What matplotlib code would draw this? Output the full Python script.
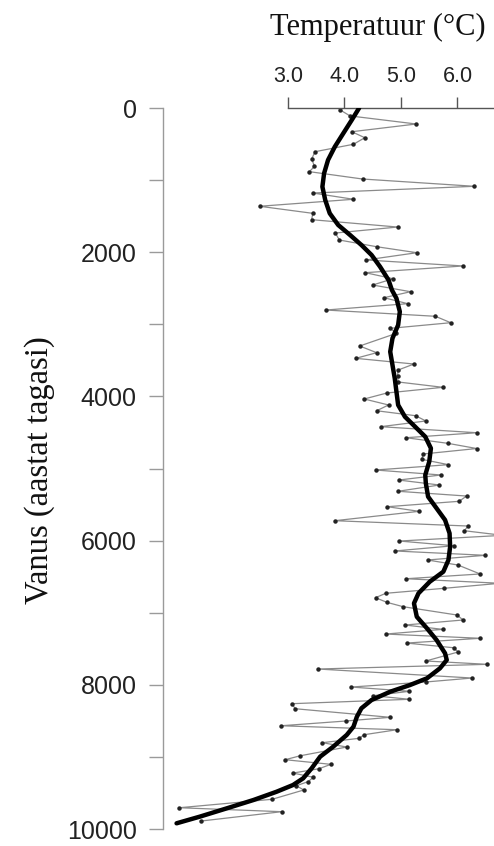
import matplotlib.pyplot as plt
import numpy as np

# thin series: temperature reconstruction (deg C) vs age (years ago)
temp_pts = [3.93, 4.10, 5.27, 4.13, 4.36, 4.16, 3.48, 3.42, 3.47, 3.38,
            4.32, 6.30, 3.44, 4.16, 2.50, 3.44, 3.42, 4.94, 3.84, 3.91,
            4.57, 5.28, 4.38, 6.10, 4.37, 4.86, 4.50, 5.17, 4.70, 5.12,
            3.67, 5.61, 5.88, 4.81, 4.92, 4.27, 4.57, 4.20, 5.23, 4.95,
            4.94, 4.95, 5.74, 4.75, 4.35, 4.78, 4.57, 5.26, 5.44, 4.64,
            6.34, 5.09, 5.83, 6.34, 5.39, 5.37, 5.84, 4.55, 5.71, 4.96,
            5.68, 4.95, 6.16, 6.03, 4.76, 5.32, 3.83, 6.19, 6.12, 6.80,
            4.97, 5.94, 4.89, 6.49, 5.47, 6.01, 6.40, 5.09, 6.75, 5.76,
            4.73, 4.55, 4.75, 5.04, 5.99, 6.10, 5.07, 5.74, 4.73, 6.40,
            5.10, 5.93, 6.01, 5.44, 6.53, 3.53, 6.26, 5.44, 4.12, 5.15,
            4.51, 5.15, 3.07, 3.13, 4.81, 4.03, 2.88, 4.93, 4.35, 4.26,
            3.61, 4.04, 3.22, 2.95, 3.76, 3.55, 3.09, 3.45, 3.36, 3.15,
            3.28, 2.72, 1.08, 2.89, 1.47]
age_pts = [30, 110, 222, 329, 412, 503, 606, 707, 809, 883,
           985, 1086, 1179, 1266, 1363, 1461, 1549, 1651, 1734, 1831,
           1924, 2007, 2108, 2191, 2284, 2368, 2455, 2548, 2631, 2714,
           2802, 2889, 2978, 3056, 3125, 3301, 3394, 3472, 3551, 3634,
           3717, 3800, 3874, 3953, 4036, 4119, 4199, 4268, 4341, 4420,
           4504, 4573, 4651, 4723, 4799, 4873, 4947, 5021, 5090, 5160,
           5229, 5316, 5382, 5455, 5530, 5594, 5724, 5798, 5863, 5927,
           6006, 6071, 6144, 6204, 6269, 6339, 6463, 6529, 6592, 6662,
           6731, 6792, 6856, 6917, 7032, 7101, 7171, 7231, 7296, 7355,
           7421, 7486, 7545, 7670, 7716, 7781, 7906, 7961, 8031, 8090,
           8151, 8201, 8262, 8332, 8451, 8502, 8568, 8623, 8692, 8742,
           8803, 8863, 8984, 9039, 9103, 9164, 9224, 9283, 9342, 9400,
           9459, 9588, 9705, 9760, 9889]

# thick smoothed curve
temp_smooth = [4.26, 4.13, 3.98, 3.83, 3.71, 3.64, 3.61, 3.66, 3.74, 3.89,
               4.10, 4.30, 4.48, 4.63, 4.78, 4.84, 4.92, 4.98, 4.95, 4.85,
               4.81, 4.85, 4.89, 4.92, 4.95, 5.07, 5.25, 5.43, 5.53, 5.50,
               5.43, 5.44, 5.48, 5.63, 5.78, 5.86, 5.87, 5.84, 5.75, 5.51,
               5.31, 5.23, 5.28, 5.46, 5.63, 5.78, 5.81, 5.69, 5.46, 5.16,
               4.81, 4.48, 4.30, 4.22, 4.16, 4.04, 3.80, 3.57, 3.42, 3.27,
               3.09, 2.80, 2.39, 1.92, 1.44, 1.03]
age_smooth = [0, 166, 351, 537, 721, 906, 1092, 1276, 1461, 1623,
              1762, 1900, 2039, 2201, 2386, 2525, 2640, 2825, 3010, 3194,
              3380, 3565, 3749, 3935, 4119, 4282, 4420, 4559, 4720, 4906,
              5090, 5205, 5391, 5552, 5714, 5899, 6085, 6269, 6431, 6570,
              6731, 6870, 7056, 7217, 7379, 7563, 7656, 7771, 7910, 8003,
              8096, 8211, 8326, 8443, 8581, 8696, 8859, 8997, 9158, 9297,
              9390, 9483, 9598, 9713, 9829, 9921]

x_ticks = [3.0, 4.0, 5.0, 6.0]
y_major = [0, 2000, 4000, 6000, 8000, 10000]
y_minor = [1000, 3000, 5000, 7000, 9000]

fig = plt.figure(figsize=(4.94, 8.46), dpi=100)
ax = fig.add_axes([163/494, 17/846, 331/494, 721/846])

ax.plot(temp_pts, age_pts, color='#8a8a8a', lw=0.9, marker='o', ms=2.2,
        mfc='#222222', mec='#222222', zorder=2)
ax.plot(temp_smooth, age_smooth, color='black', lw=3.2,
        solid_capstyle='round', solid_joinstyle='round', zorder=3)

ax.set_xlim(0.79, 6.646)
ax.set_ylim(10000, 0)

for s in ['right', 'bottom']:
    ax.spines[s].set_visible(False)
ax.spines['left'].set_color('#9a9a9a')
ax.spines['left'].set_linewidth(1.0)
ax.spines['top'].set_color('#555555')
ax.spines['top'].set_linewidth(1.0)
ax.spines['top'].set_bounds(3.0, 6.646)

ax.xaxis.tick_top()
ax.set_xticks(x_ticks)
ax.set_xticklabels(['%.1f' % v for v in x_ticks])
ax.tick_params(axis='x', direction='out', length=8, width=1, color='#555555',
               pad=7, labelsize=15.5, labelcolor='#222222')
for lab in ax.get_xticklabels():
    lab.set_fontfamily('Liberation Sans')

ax.set_yticks(y_major)
ax.set_yticks(y_minor, minor=True)
ax.set_yticklabels([str(v) for v in y_major])
ax.tick_params(axis='y', which='both', direction='out', length=10, width=1,
               color='#9a9a9a', pad=9, labelsize=18, labelcolor='#222222')
for lab in ax.get_yticklabels():
    lab.set_fontfamily('Liberation Sans')

fig.text(0.765, 0.967, 'Temperatuur (°C)', family='Liberation Serif',
         fontsize=22, ha='center', va='center', color='#111111')
fig.text(0.081, 0.444, 'Vanus (aastat tagasi)', family='Liberation Serif',
         fontsize=23.5, ha='center', va='center', rotation=90, color='#111111')

fig.savefig('out.png', dpi=100)
